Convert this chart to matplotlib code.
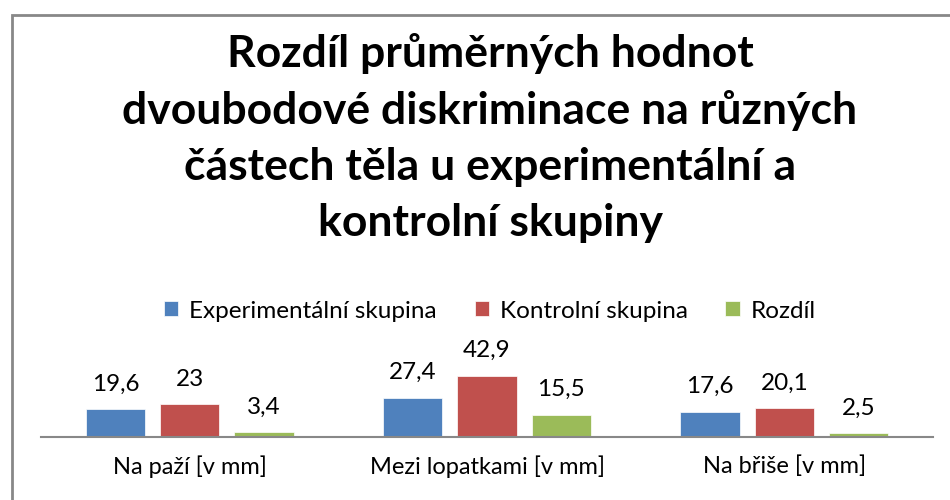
"""Grouped bar chart: differences of mean two-point discrimination values."""
import numpy as np
import matplotlib.pyplot as plt
from matplotlib.patches import Rectangle

# Data
categories = ["Na paží [v mm]", "Mezi lopatkami [v mm]", "Na břiše [v mm]"]
series_names = ["Experimentální skupina", "Kontrolní skupina", "Rozdíl"]
experimental = [19.6, 27.4, 17.6]
control = [23, 42.9, 20.1]
difference = [3.4, 15.5, 2.5]
title = ("Rozdíl průměrných hodnot\ndvoubodové diskriminace na různých\n"
         "částech těla u experimentální a\nkontrolní skupiny")

colors = ["#4F81BD", "#C0504D", "#9BBB59"]
plt.rcParams['font.family'] = ['Lato', 'DejaVu Sans']

fig = plt.figure(figsize=(9.5, 5), dpi=100)
ax = fig.add_axes([41 / 950, 1 - 437 / 500, 892 / 950, 71 / 500])

x = np.arange(len(categories))
width = 0.2
offsets = [-0.25, 0, 0.25]
for vals, name, col, off in zip([experimental, control, difference],
                                series_names, colors, offsets):
    bars = ax.bar(x + off, vals, width, color=col, label=name,
                  edgecolor="white", linewidth=0.5)
    for b, v in zip(bars, vals):
        label = f"{v:g}".replace(".", ",")
        ax.annotate(label, (b.get_x() + b.get_width() / 2, v),
                    xytext=(0, 13.5), textcoords="offset points",
                    ha="center", va="baseline", fontsize=17.5)

ax.set_xlim(-0.5, 2.5)
ax.set_ylim(0, 50)
ax.set_xticks(x)
ax.set_xticklabels(categories, fontsize=17)
ax.tick_params(axis="x", length=0, pad=13)
ax.set_yticks([])
for s in ["top", "left", "right"]:
    ax.spines[s].set_visible(False)
ax.spines["bottom"].set_color("#888888")
ax.spines["bottom"].set_linewidth(1.5)
ax.patch.set_visible(False)

fig.text(490 / 950, 1 - 138 / 500, title, ha="center", va="center",
         fontsize=32, fontweight="bold", linespacing=1.48)

fig.legend(loc="center", bbox_to_anchor=(490 / 950, 1 - 311 / 500), ncol=3,
           frameon=False, fontsize=17.5, handlelength=0.58, handleheight=0.58,
           handletextpad=0.45, columnspacing=1.55)

# chart frame (cut off at right and bottom in the reference)
fig.patches.append(Rectangle((12 / 950, -0.1), 1.2, 1.1 - 15 / 500,
                             transform=fig.transFigure, fill=False,
                             edgecolor="#888888", linewidth=2))

fig.savefig("out.png", dpi=100)
